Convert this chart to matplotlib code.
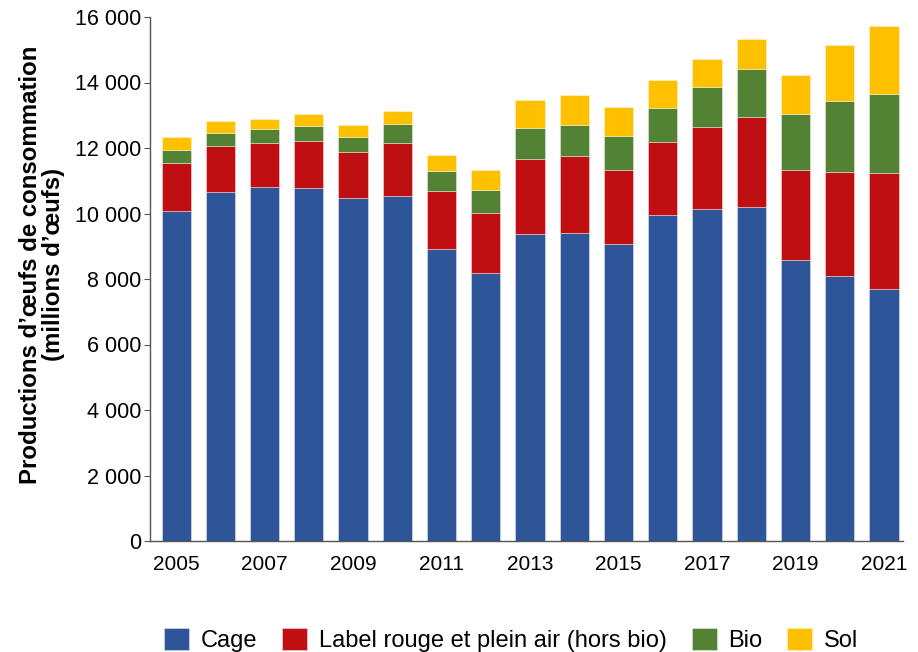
import matplotlib
matplotlib.use("Agg")
import matplotlib.pyplot as plt
from matplotlib.ticker import FuncFormatter

plt.rcParams['font.family'] = ['Liberation Sans', 'DejaVu Sans']

years = list(range(2005, 2022))
cage = [10085, 10656, 10800, 10769, 10483, 10534, 8906, 8193, 9364, 9395, 9059, 9940, 10128, 10189, 8590, 8082, 7685]
label_rouge = [1466, 1415, 1362, 1454, 1404, 1628, 1781, 1813, 2310, 2351, 2259, 2253, 2513, 2748, 2728, 3175, 3542]
bio = [388, 387, 418, 449, 449, 571, 601, 712, 937, 956, 1048, 1023, 1231, 1475, 1731, 2168, 2432]
sol = [406, 366, 305, 366, 366, 397, 489, 600, 855, 907, 876, 864, 846, 906, 1191, 1720, 2056]

series = [
    ("Cage", cage, "#2E5597"),
    ("Label rouge et plein air (hors bio)", label_rouge, "#C00F12"),
    ("Bio", bio, "#548235"),
    ("Sol", sol, "#FFC000"),
]

fig = plt.figure(figsize=(9.18, 6.52), dpi=100)
ax = fig.add_axes([150/918, 1-541/652, (903-150)/918, (541-17)/652])

bottom = [0]*len(years)
for name, vals, col in series:
    ax.bar(years, vals, width=0.66, bottom=bottom, color=col, label=name,
           edgecolor=(1, 1, 1, 0.45), linewidth=0.6)
    bottom = [b + v for b, v in zip(bottom, vals)]

ax.set_ylim(0, 16000)
ax.set_xlim(2005 - 0.59, 2021 + 0.43)
ax.set_yticks(range(0, 16001, 2000))
ax.yaxis.set_major_formatter(FuncFormatter(lambda v, p: f"{int(v):,}".replace(",", " ")))
ax.set_xticks(years[::2])
ax.tick_params(axis='y', labelsize=15.5, length=4.3, color='#555555', pad=2)
ax.tick_params(axis='x', labelsize=15, length=0, pad=10)
for s in ['top', 'right']:
    ax.spines[s].set_visible(False)
for s in ['left', 'bottom']:
    ax.spines[s].set_color('#555555')
    ax.spines[s].set_linewidth(1.0)

ax.set_ylabel("Productions d\u2019\u0153ufs de consommation\n(millions d\u2019\u0153ufs)",
              fontsize=17.3, fontweight='bold', labelpad=7, linespacing=1.0)
ax.yaxis.label.set_y(0.527)

fig.legend(loc='lower left', bbox_to_anchor=(164/918, 0.0), ncol=4, frameon=False,
           fontsize=17, handlelength=1.06, handleheight=1.06, handletextpad=0.5,
           columnspacing=1.05, borderpad=0, borderaxespad=0)

fig.savefig("out.png", dpi=100)
